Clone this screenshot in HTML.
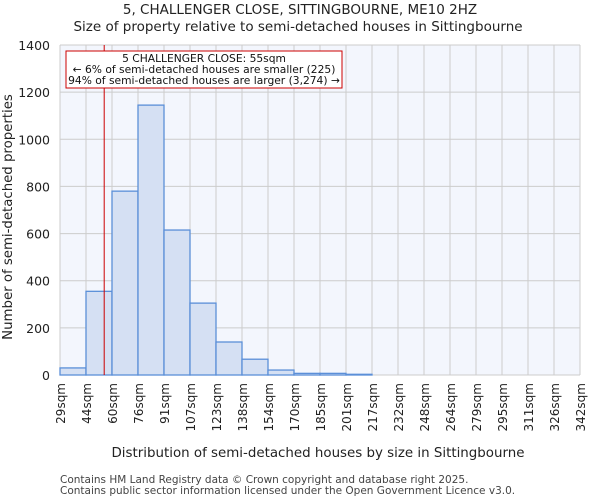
<!DOCTYPE html>
<html><head><meta charset="utf-8"><style>
body{margin:0;background:#fff;font-family:"DejaVu Sans","Liberation Sans",sans-serif;}
</style></head><body>
<svg width="600" height="500" xmlns="http://www.w3.org/2000/svg" font-family="DejaVu Sans, Liberation Sans, sans-serif">
<g id="chart"></g>
</svg>
<script>
const binLabels=["29sqm","44sqm","60sqm","76sqm","91sqm","107sqm","123sqm","138sqm","154sqm","170sqm","185sqm","201sqm","217sqm","232sqm","248sqm","264sqm","279sqm","295sqm","311sqm","326sqm","342sqm"];
const counts=[30,355,780,1145,615,305,140,67,21,7,7,3,0,0,0,0,0,0,0,0];
const yTicks=[0,200,400,600,800,1000,1200,1400];
const markerValue=55;
const NS="http://www.w3.org/2000/svg";
const g=document.getElementById('chart');
const L=60,R=580,T=45,B=375,yMax=1400,xMin=29,xMax=342;
const bw=(R-L)/counts.length;
const y=v=>B-(v/yMax)*(B-T);
const xv=v=>L+(v-xMin)/(xMax-xMin)*(R-L);
function el(tag,a,txt){const e=document.createElementNS(NS,tag);for(const k in a)e.setAttribute(k,a[k]);if(txt!==undefined)e.textContent=txt;g.appendChild(e);return e;}
let e;
e=el('rect',{x:L,y:T,width:R-L,height:B-T,fill:'#f3f6fd'});


for(let i=0;i<=counts.length;i++){e=el('line',{x1:L+i*bw,x2:L+i*bw,y1:T,y2:B,stroke:'#cccccc','stroke-width':1});

}
yTicks.forEach(t=>{e=el('line',{x1:L,x2:R,y1:y(t),y2:y(t),stroke:'#cccccc','stroke-width':1});


e=el('text',{x:L-10,y:y(t)+5,'text-anchor':'end','font-size':12.5,fill:'#222'},t);

});
counts.forEach((c,i)=>{if(c<=0)return;e=el('rect',{x:L+i*bw,y:y(c),width:bw,height:B-y(c),fill:'#d5e0f3',stroke:'#5b8fd8','stroke-width':1.3});

});
binLabels.forEach((l,i)=>{const x=L+i*bw;e=el('text',{x:x+5,y:B+8,'text-anchor':'end','font-size':12,fill:'#222',transform:`rotate(-90 ${x+5} ${B+8})`},l);

});
e=el('line',{x1:xv(markerValue)+1,x2:xv(markerValue)+1,y1:T,y2:B,stroke:'#cc0000','stroke-width':1});


e=el('rect',{x:66,y:51,width:276,height:37,fill:'#fff',stroke:'#cc0000','stroke-width':1});


[["5 CHALLENGER CLOSE: 55sqm",62],["← 6% of semi-detached houses are smaller (225)",73],["94% of semi-detached houses are larger (3,274) →",84]].forEach(([t,yy])=>{e=el('text',{x:204,y:yy,'text-anchor':'middle','font-size':10.7,fill:'#111'},t);

});
e=el('text',{x:300,y:14,'text-anchor':'middle','font-size':13.5,fill:'#222'},"5, CHALLENGER CLOSE, SITTINGBOURNE, ME10 2HZ");


e=el('text',{x:298,y:31,'text-anchor':'middle','font-size':13.5,fill:'#222'},"Size of property relative to semi-detached houses in Sittingbourne");


e=el('text',{x:318,y:457,'text-anchor':'middle','font-size':13.4,fill:'#222'},"Distribution of semi-detached houses by size in Sittingbourne");


e=el('text',{x:12,y:217,'text-anchor':'middle','font-size':13.3,fill:'#222',transform:'rotate(-90 12 217)'},"Number of semi-detached properties");


e=el('text',{x:60,y:483,'font-size':10.5,fill:'#444'},"Contains HM Land Registry data © Crown copyright and database right 2025.");


e=el('text',{x:60,y:494,'font-size':10.5,fill:'#444'},"Contains public sector information licensed under the Open Government Licence v3.0.");


</script>
</body></html>
